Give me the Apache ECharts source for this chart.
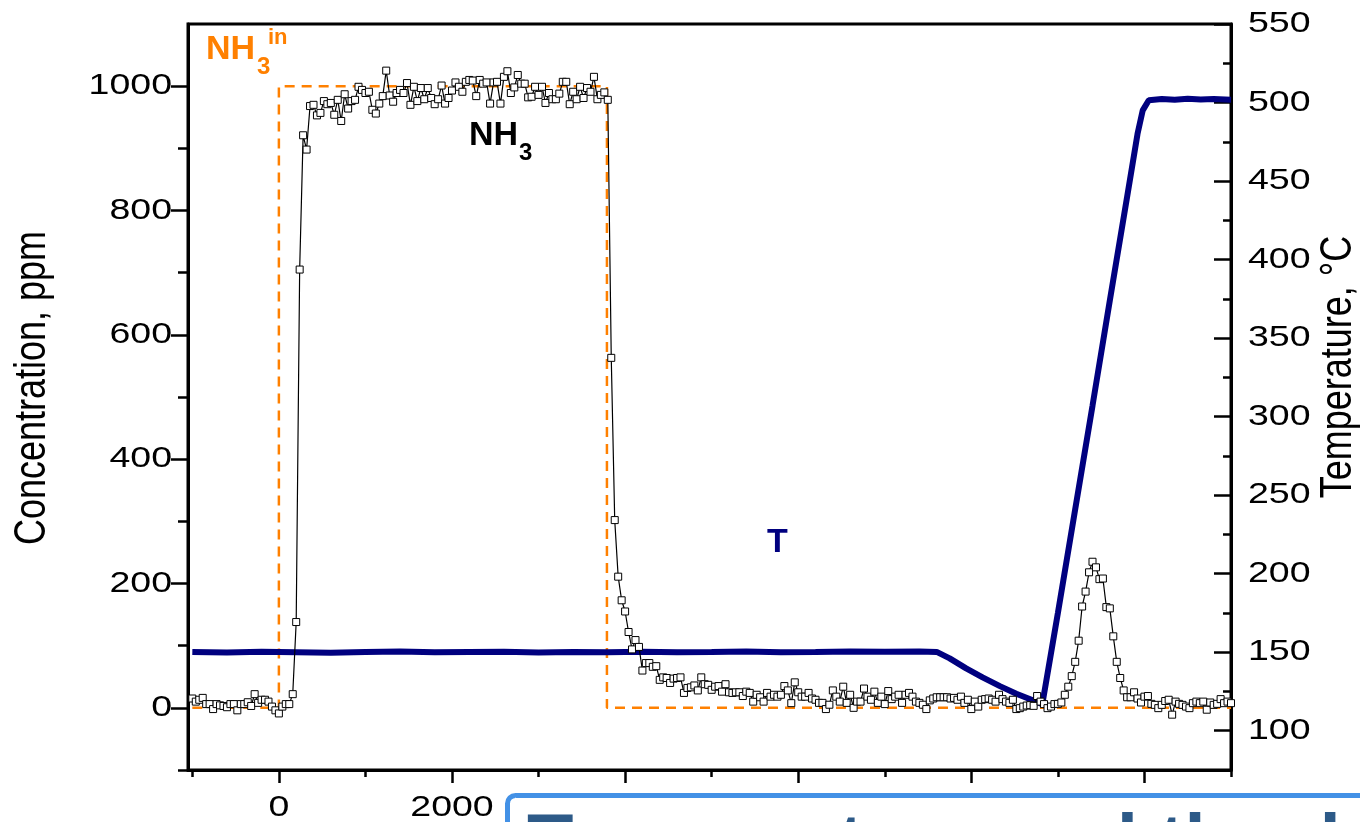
<!DOCTYPE html>
<html>
<head>
<meta charset="utf-8">
<script src="https://cdn.jsdelivr.net/npm/echarts@6.0.0/dist/echarts.min.js"></script>
<style>
  html, body { margin: 0; padding: 0; background: #fff; }
  #chart { width: 1360px; height: 822px; }
</style>
</head>
<body>
<div id="chart"></div>
<script>
// NH3 outlet concentration, one reading every 40 s starting at -1000 s
const nh3Start = -1000
const nh3Step = 40
const nh3Values = [
  15, 10, 13, 16, 6, 6, -2, 6, 4, 3, 1, 6, 6, -4, 6, 6, 9, 3, 22, 8,
  13, 13, 10, 2, -4, -9, 2, 6, 6, 22,
  138, 705, 921, 898,
  968, 970, 953, 957, 976, 971, 973, 954, 978, 944,
  987, 964, 976, 978, 999, 994, 989, 991, 962, 956,
  972, 984, 1025, 985, 975, 989, 994, 989, 1005, 970,
  999, 976, 997, 979, 997, 981, 971, 979, 1001, 972,
  981, 993, 1006, 999, 991, 1007, 1010, 1009, 984, 1010,
  1004, 1006, 972, 1006, 1007, 972, 1015, 1024, 989, 998,
  1018, 1004, 1004, 982, 983, 999, 986, 999, 973, 989,
  979, 979, 988, 1007, 1007, 971, 991, 979, 999, 981,
  997, 991, 1015, 979, 986, 990, 978,
  563, 302, 211, 173, 155, 122, 94, 109, 98, 60,
  72, 72, 66, 67, 45, 49, 48, 40, 47, 48,
  49, 24, 32, 33, 36, 28, 49, 38, 37, 29,
  34, 35, 26, 38, 25, 24, 25, 25, 19, 26,
  24, 10, 21, 17, 10, 24, 18, 21, 18, 21,
  35, 28, 7.5, 41, 25, 18, 18, 24, 15, 13,
  8, 8, -2, 5, 28, 18, 10, 34, 8, 21,
  0, 10, 10, 31, 18, 13, 26, 8, 18, 6,
  27, 14, 18, 21, 8, 21, 24, 18, 10, 8,
  5, -2, 12, 15, 17, 17, 17, 17, 15, 16,
  13, 18, 8, 13, -2, 10, 2, 13, 14, 15,
  13, 10, 21, 14, 10, 8,
  13, -2, -0.5, 2, 3.7, 4.3, 3.2, 19, 10, 6,
  -0.5, 2, 6, 6.4, 8.6, 21, 34, 51, 74, 108,
  163, 187, 218, 235, 226, 207, 208, 162, 160, 115,
  74, 48, 28, 17, 17, 25, 15, 8.6, 18, 19,
  6.4, 4.8, -0.5, 4.8, 11, 13, -11, 10, 6.4, 4.8,
  2, -0.5, 7.5, 10, 7.5, 10, -3, 8.6, 4.8, 6.4,
  14, 7.5, 10, 7.5
]

// inlet NH3 step (dashed orange)
const nh3InTime = [-1000, 0, 0, 3790, 3790, 11000]
const nh3InValue = [0, 0, 1000, 1000, 0, 0]

// temperature, deg C
const tempTime = [
  -1000, -600, -200, 200, 600, 1000, 1400, 1800, 2200, 2600, 3000, 3400,
  3800, 4200, 4600, 5000, 5400, 5800, 6200, 6600, 7000, 7400, 7600,
  7750, 7940, 8130, 8330, 8520, 8710, 8820,
  9000, 9200, 9400, 9600, 9800, 9920, 9980, 10050,
  10200, 10350, 10500, 10650, 10800, 11000
]
const tempValue = [
  150.2, 149.8, 150.3, 150, 149.7, 150.2, 150.4, 149.9, 150.1, 150.3, 149.8, 150.2,
  150, 150.3, 149.9, 150.1, 150.4, 150, 150.2, 150.5, 150.3, 150.4, 150.2,
  146.1, 139.7, 134, 128.4, 123.6, 119.4, 116.8,
  175, 241, 307, 374, 440, 480, 495, 501.5,
  502.3, 501.8, 502.4, 501.9, 502.2, 501.8
]

// tick positions / labels
const xMajor = [0, 2000, 4000, 6000, 8000, 10000]
const xMinor = [-1000, 1000, 3000, 5000, 7000, 9000, 11000]
const concMajor = [0, 200, 400, 600, 800, 1000]
const concMinor = [-100, 100, 300, 500, 700, 900]
const tempMajor = [100, 150, 200, 250, 300, 350, 400, 450, 500, 550]
const tempMinor = [125, 175, 225, 275, 325, 375, 425, 475, 525]

const FONT = 'Liberation Sans, Arial, Helvetica, sans-serif'
const SX = 1.25 // the source figure's lettering is stretched sideways

const nh3Data = nh3Values.map((v, i) => [nh3Start + i * nh3Step, v])
const nh3InData = nh3InTime.map((t, i) => [t, nh3InValue[i]])
const tempData = tempTime.map((t, i) => [t, tempValue[i]])

const chart = echarts.init(document.getElementById('chart'))

const tickStyle = { color: '#000', width: 2.5 }

function tickAxis(pos, min, max, values, len, inside, line) {
  return {
    type: 'value',
    position: pos,
    min: min,
    max: max,
    axisLine: { show: line, onZero: false, lineStyle: { color: '#000', width: 3 } },
    axisTick: { show: true, customValues: values, length: len, inside: inside, lineStyle: tickStyle },
    axisLabel: { show: false },
    splitLine: { show: false },
  }
}

let option = {
  animation: false,
  backgroundColor: '#fff',
  grid: {
    left: 188,
    right: 129,
    top: 24,
    bottom: 52,
    show: true,
    borderColor: '#000',
    borderWidth: 3,
    containLabel: false,
    outerBoundsMode: 'none',
  },
  xAxis: [
    tickAxis('bottom', -1050, 11000, xMajor, 13, false, true),
    tickAxis('bottom', -1050, 11000, xMinor, 7, false, false),
  ],
  yAxis: [
    tickAxis('left', -100, 1100, concMajor, 17, false, true),
    tickAxis('right', 75, 550, tempMajor, 17, true, true),
    tickAxis('left', -100, 1100, concMinor, 10, false, false),
    tickAxis('right', 75, 550, tempMinor, 8, true, false),
  ],
  series: [
    {
      name: 'NH3 in',
      type: 'line',
      xAxisIndex: 0,
      yAxisIndex: 0,
      data: nh3InData,
      symbol: 'none',
      lineStyle: { color: '#ff8000', width: 2.5, type: [10, 7] },
      z: 1,
    },
    {
      name: 'T',
      type: 'line',
      xAxisIndex: 0,
      yAxisIndex: 1,
      data: tempData,
      symbol: 'none',
      lineStyle: { color: '#00007f', width: 6 },
      z: 2,
    },
    {
      name: 'NH3',
      type: 'line',
      xAxisIndex: 0,
      yAxisIndex: 0,
      data: nh3Data,
      symbol: 'rect',
      symbolSize: 7,
      showAllSymbol: true,
      itemStyle: { color: '#fff', borderColor: '#000', borderWidth: 1 },
      lineStyle: { color: '#000', width: 1.2 },
      z: 3,
    },
  ],
}

chart.setOption(option)

// tick labels and axis titles, placed from the axes' own scales
function label(x, y, text, align, extra) {
  return Object.assign({
    type: 'text', x: x, y: y, scaleX: SX, z: 50,
    style: { text: text, fill: '#000', font: '30px ' + FONT, align: align, verticalAlign: 'middle' },
  }, extra || {})
}

const gLeft = chart.convertToPixel({ xAxisIndex: 0 }, -1050)
const gRight = chart.convertToPixel({ xAxisIndex: 0 }, 11000)
const gBottom = chart.convertToPixel({ yAxisIndex: 0 }, -100)
const gTop = chart.convertToPixel({ yAxisIndex: 0 }, 1100)

let graphics = []
concMajor.forEach((v) => {
  graphics.push(label(gLeft - 16, chart.convertToPixel({ yAxisIndex: 0 }, v), String(v), 'right'))
})
tempMajor.forEach((v) => {
  graphics.push(label(gRight + 17, chart.convertToPixel({ yAxisIndex: 1 }, v), String(v), 'left'))
})
xMajor.forEach((v) => {
  graphics.push(label(chart.convertToPixel({ xAxisIndex: 0 }, v), gBottom + 38, String(v), 'center'))
})
const midY = (gTop + gBottom) / 2
graphics.push({
  type: 'text', x: gLeft - 155, y: midY - 9, rotation: Math.PI / 2, scaleY: SX, z: 50,
  style: { text: 'Concentration, ppm', fill: '#000', font: '36px ' + FONT, align: 'center', verticalAlign: 'middle' },
})
graphics.push({
  type: 'text', x: gRight + 108, y: midY - 30, rotation: Math.PI / 2, scaleY: SX, z: 50,
  style: { text: 'Temperature, °C', fill: '#000', font: '36px ' + FONT, align: 'center', verticalAlign: 'middle' },
})

// series labels
graphics.push(
  { type: 'text', x: 206, y: 50, style: { text: 'NH', fill: '#ff8000', font: 'bold 34px ' + FONT, verticalAlign: 'middle' } },
  { type: 'text', x: 257, y: 67, style: { text: '3', fill: '#ff8000', font: 'bold 24px ' + FONT, verticalAlign: 'middle' } },
  { type: 'text', x: 268, y: 38, style: { text: 'in', fill: '#ff8000', font: 'bold 22px ' + FONT, verticalAlign: 'middle' } },
  { type: 'text', x: 469, y: 136, style: { text: 'NH', fill: '#000', font: 'bold 34px ' + FONT, verticalAlign: 'middle' } },
  { type: 'text', x: 519, y: 153, style: { text: '3', fill: '#000', font: 'bold 24px ' + FONT, verticalAlign: 'middle' } },
  { type: 'text', x: 767, y: 543, style: { text: 'T', fill: '#00007f', font: 'bold 34px ' + FONT, verticalAlign: 'middle' } }
)

// caption box overlapping the bottom of the figure
graphics.push(
  {
    type: 'rect', z: 100, left: 505, top: 793,
    shape: { width: 900, height: 120, r: 8 },
    style: { fill: '#fff', stroke: '#4391e6', lineWidth: 5 },
  },
  {
    type: 'text', z: 101, x: 527, y: 846,
    style: { text: 'Temperature and the desorption', fill: '#2d5a88', font: 'bold 76px ' + FONT, verticalAlign: 'middle' },
  }
)

chart.setOption({ graphic: graphics })

window.addEventListener('resize', () => {
  chart.resize()
})
</script>
</body>
</html>
